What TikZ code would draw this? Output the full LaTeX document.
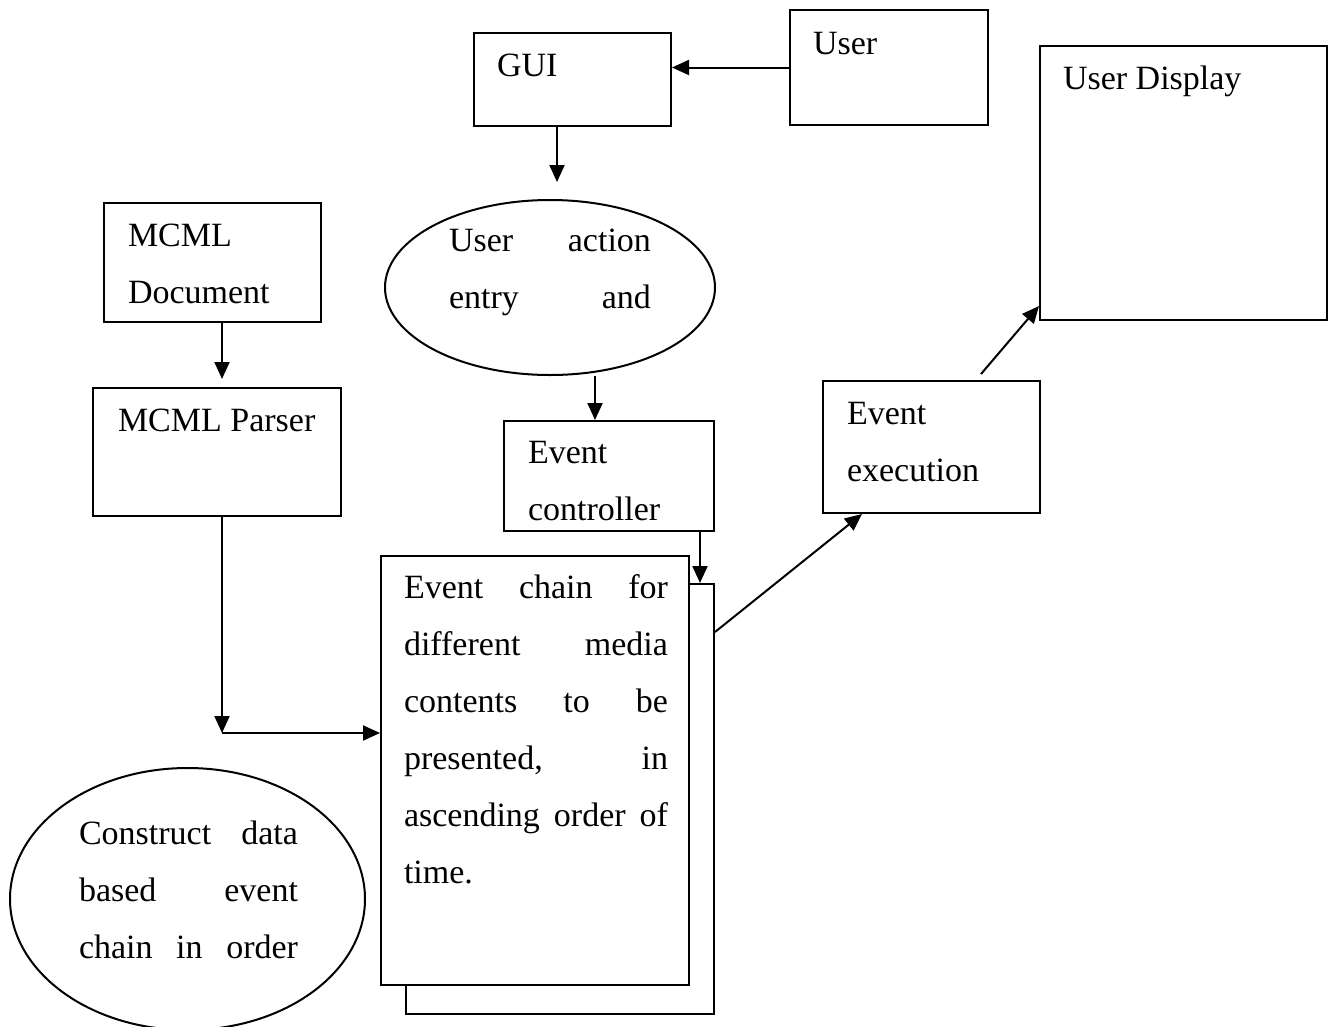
\documentclass[tikz,border=0pt]{standalone}
\usepackage{fontspec}
\setmainfont{Liberation Serif}
\usetikzlibrary{arrows.meta,shapes.geometric}

% one justified line of a text block
\newcommand{\jline}[2]{\makebox[#1][s]{#2}}

\begin{document}
\begin{tikzpicture}[x=1pt,y=-1pt,
  line width=2pt,
  box/.style={draw,rectangle,inner sep=0pt},
  oval/.style={draw,ellipse,inner sep=0pt},
  % multi-line labels are placed by the baseline of their last line
  lbl/.style={anchor=base west,inner sep=0pt,align=left,
              font=\fontsize{34}{57}\selectfont},
  arr/.style={-{Triangle[length=17pt,width=15pt]}}]

\useasboundingbox[fill=white] (0,0) rectangle (1331,1026);

% boxes and ovals
\node[box,minimum width=197pt,minimum height=93pt]  (gui)    at (572.5,79.5) {};
\node[box,minimum width=198pt,minimum height=115pt] (user)   at (889,67.5) {};
\node[box,minimum width=287pt,minimum height=274pt] (disp)   at (1183.5,183) {};
\node[box,minimum width=217pt,minimum height=119pt] (doc)    at (212.5,262.5) {};
\node[box,minimum width=248pt,minimum height=128pt] (parser) at (217,452) {};
\node[oval,minimum width=330pt,minimum height=175pt] (act)   at (550,287.5) {};
\node[box,minimum width=210pt,minimum height=110pt] (ctrl)   at (609,476) {};
\node[box,minimum width=308pt,minimum height=430pt] (chainback) at (560,799) {};
\node[box,fill=white,minimum width=308pt,minimum height=429pt] (chain) at (535,770.5) {};
\node[box,minimum width=217pt,minimum height=132pt] (exec)   at (931.5,447) {};
\node[oval,minimum width=355pt,minimum height=262pt] (cons)  at (187.5,899) {};

% labels
\node[lbl] (guiT)    at (496,76)   {GUI};
\node[lbl] (userT)   at (812,54)   {User};
\node[lbl] (dispT)   at (1062,89)  {User Display};
\node[lbl] (docT)    at (127,303)  {MCML\\Document};
\node[lbl] (parserT) at (117,431)  {MCML Parser};
\node[lbl] (actT)    at (448,308)  {\jline{202pt}{User action}\\\jline{202pt}{entry and}};
\node[lbl] (ctrlT)   at (527,520)  {Event\\controller};
\node[lbl] (chainT)  at (403,883)  {\jline{264pt}{Event chain for}\\
  \jline{264pt}{different media}\\
  \jline{264pt}{contents to be}\\
  \jline{264pt}{presented, in}\\
  \jline{264pt}{ascending order of}\\
  time.};
\node[lbl] (execT)   at (846,481)  {Event\\execution};
\node[lbl] (consT)   at (78,958)   {\jline{219pt}{Construct data}\\
  \jline{219pt}{based event}\\
  \jline{219pt}{chain in order}};

% connectors
\draw[arr] (user.west) -- (user.west -| gui.east);
\draw[arr] ([xshift=-15.5pt]gui.south) -- ([xshift=7pt,yshift=17pt]act.north);
\draw[arr] ([xshift=45pt]act.south) -- ([xshift=-14pt]ctrl.north);
\draw[arr] ([xshift=9.5pt]doc.south) -- ([xshift=5pt,yshift=8pt]parser.north);
\coordinate (turn) at (222,733);
\draw[arr] ([xshift=5pt]parser.south) -- (turn);
\draw[arr] (turn) -- (turn -| chain.west);
\draw[arr] ([xshift=91pt]ctrl.south) -- ([xshift=140pt]chainback.north);
\draw[arr] ([yshift=167pt]chainback.east) -- ([xshift=-69.5pt]exec.south);
\draw[arr] ([xshift=49.5pt,yshift=6pt]exec.north) -- ([yshift=15pt]disp.south west);
\end{tikzpicture}
\end{document}
